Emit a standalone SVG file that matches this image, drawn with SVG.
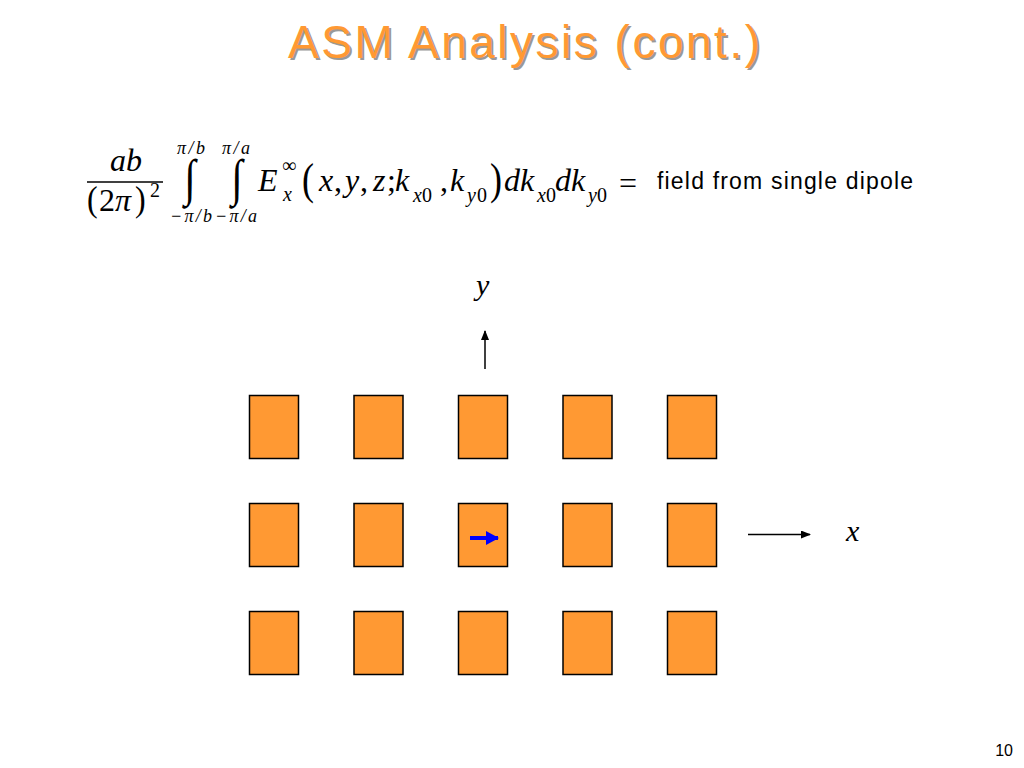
<svg xmlns="http://www.w3.org/2000/svg" width="1024" height="768" viewBox="0 0 1024 768">
<defs>
<style>
.m{font-family:"Liberation Serif","Times New Roman",serif;font-style:italic;fill:#000}
.r{font-family:"Liberation Serif","Times New Roman",serif;fill:#000}
.s{font-family:"Liberation Sans",Arial,sans-serif;fill:#000}
.big{font-size:32px}
.sub{font-size:20px}
.lim{font-size:18px}
.cell{fill:#FF9933;stroke:#000;stroke-width:1.5}
.ax{stroke:#000;stroke-width:1.5;fill:none}
</style>
<marker id="ah" markerWidth="10" markerHeight="8" refX="9" refY="4" orient="auto" markerUnits="userSpaceOnUse">
<path d="M0,0 L10,4 L0,8 z" fill="#000"/>
</marker>
<marker id="bh" markerWidth="14" markerHeight="14" refX="12" refY="7" orient="auto" markerUnits="userSpaceOnUse">
<path d="M0,0 L13,7 L0,14 z" fill="#0000FF"/>
</marker>
</defs>
<rect width="1024" height="768" fill="#fff"/>
<g id="title">
<text x="526" y="60" text-anchor="middle" font-family="Liberation Sans,Arial,sans-serif" font-size="46" fill="#999" textLength="472">ASM Analysis (cont.)</text>
<text x="524" y="58" text-anchor="middle" font-family="Liberation Sans,Arial,sans-serif" font-size="46" fill="#FF9933" textLength="472">ASM Analysis (cont.)</text>
</g>
<g id="equation">
<text class="m big" x="126" y="171" text-anchor="middle">ab</text>
<line x1="87" y1="182" x2="163" y2="182" stroke="#000" stroke-width="1.3"/>
<text class="r" x="87" y="211" font-size="32" transform="translate(87,211) scale(1,1.12) translate(-87,-211)">(</text>
<text class="r big" x="99" y="211">2</text>
<text class="m big" x="115" y="211">π</text>
<text class="r" x="135" y="211" font-size="32" transform="translate(135,211) scale(1,1.12) translate(-135,-211)">)</text>
<text class="r sub" x="150" y="197">2</text>
<text class="m lim" x="191" y="154" text-anchor="middle" textLength="28">π/b</text>
<text class="m lim" x="236" y="154" text-anchor="middle" textLength="28">π/a</text>
<text class="m lim" x="191" y="222" text-anchor="middle" textLength="42">−π/b</text>
<text class="m lim" x="236" y="222" text-anchor="middle" textLength="42">−π/a</text>
<text class="r" x="190" y="195" font-size="36" text-anchor="middle" transform="translate(190,195) scale(1.15,1.42) translate(-190,-195)">∫</text>
<text class="r" x="237" y="195" font-size="36" text-anchor="middle" transform="translate(237,195) scale(1.15,1.42) translate(-237,-195)">∫</text>
<text class="m big" x="258" y="191">E</text>
<text class="r sub" x="282" y="172">∞</text>
<text class="m sub" x="283" y="201">x</text>
<text class="r" x="302" y="194" font-size="36" transform="translate(302,194) scale(1,1.25) translate(-302,-194)">(</text>
<text class="m big" x="319" y="191">x</text>
<text class="r big" x="334" y="191">,</text>
<text class="m big" x="345" y="191">y</text>
<text class="r big" x="360" y="191">,</text>
<text class="m big" x="373" y="191">z</text>
<text class="r big" x="387" y="191">;</text>
<text class="m big" x="395" y="191">k</text>
<text class="m sub" x="413" y="202">x</text>
<text class="r sub" x="422" y="202">0</text>
<text class="r big" x="440" y="191">,</text>
<text class="m big" x="450" y="191">k</text>
<text class="m sub" x="467" y="202">y</text>
<text class="r sub" x="477" y="202">0</text>
<text class="r" x="490" y="194" font-size="36" transform="translate(490,194) scale(1,1.25) translate(-490,-194)">)</text>
<text class="m big" x="504" y="191">d</text>
<text class="m big" x="520" y="191">k</text>
<text class="m sub" x="537" y="202">x</text>
<text class="r sub" x="546" y="202">0</text>
<text class="m big" x="555" y="191">d</text>
<text class="m big" x="571" y="191">k</text>
<text class="m sub" x="588" y="202">y</text>
<text class="r sub" x="597" y="202">0</text>
<text class="r big" x="619" y="194">=</text>
<text class="s" x="657" y="189" font-size="23" textLength="256">field from single dipole</text>
</g>
<g id="cells">
<rect class="cell" x="249.5" y="395.5" width="49" height="63"/>
<rect class="cell" x="354" y="395.5" width="49" height="63"/>
<rect class="cell" x="458.5" y="395.5" width="49" height="63"/>
<rect class="cell" x="563" y="395.5" width="49" height="63"/>
<rect class="cell" x="667.5" y="395.5" width="49" height="63"/>
<rect class="cell" x="249.5" y="503.5" width="49" height="63"/>
<rect class="cell" x="354" y="503.5" width="49" height="63"/>
<rect class="cell" x="458.5" y="503.5" width="49" height="63"/>
<rect class="cell" x="563" y="503.5" width="49" height="63"/>
<rect class="cell" x="667.5" y="503.5" width="49" height="63"/>
<rect class="cell" x="249.5" y="611.5" width="49" height="63"/>
<rect class="cell" x="354" y="611.5" width="49" height="63"/>
<rect class="cell" x="458.5" y="611.5" width="49" height="63"/>
<rect class="cell" x="563" y="611.5" width="49" height="63"/>
<rect class="cell" x="667.5" y="611.5" width="49" height="63"/>
</g>
<g id="connectors">
<line class="ax" x1="485" y1="369" x2="485" y2="331" marker-end="url(#ah)"/>
<line class="ax" x1="748" y1="534.5" x2="810" y2="534.5" marker-end="url(#ah)"/>
<line x1="470" y1="538" x2="498" y2="538" stroke="#0000FF" stroke-width="4" marker-end="url(#bh)"/>
</g>
<g id="labels">
<text class="m" x="476" y="295" font-size="30">y</text>
<text class="m" x="846" y="541" font-size="30">x</text>
<text class="s" x="1013" y="756" font-size="16" text-anchor="end">10</text>
</g>
</svg>
